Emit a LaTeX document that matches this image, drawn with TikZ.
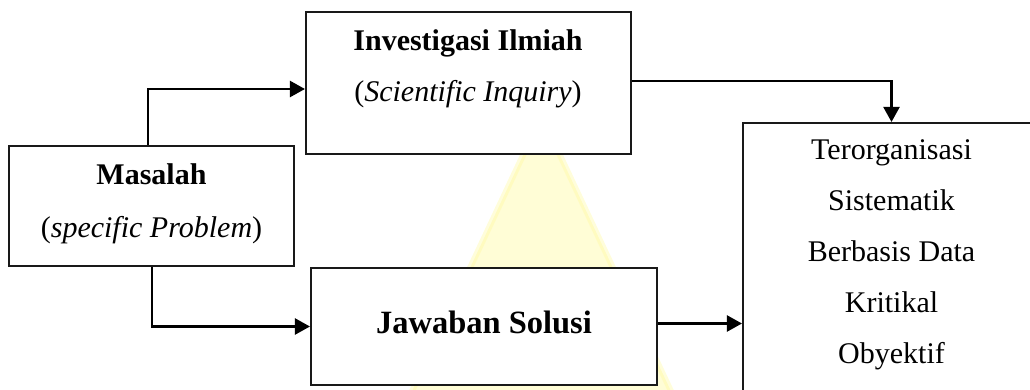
\documentclass[tikz,border=0pt]{standalone}
\usepackage{fontspec}
\setmainfont{Liberation Serif}
\usetikzlibrary{arrows.meta}
\begin{document}
\begin{tikzpicture}[x=1pt,y=-1pt,
  box/.style={draw=black!90, line width=2.1pt, inner sep=0pt, fill=white},
  txt/.style={anchor=base, inner sep=0pt, font=\fontsize{30}{30}\selectfont},
  conn/.style={line width=2.3pt, -{Triangle[length=15pt,width=16pt]}},
  wm/.style={fill=yellow!16, draw=yellow!40, line width=6pt, draw opacity=0.35}
]
\useasboundingbox (0,0) rectangle (1030,390);
\begin{scope}
\clip (0,0) rectangle (1030,390);
% faint watermark triangle
\path[wm] (541.5,116) -- (405,406) -- (678,406) -- cycle;
\node[box, minimum width=285pt, minimum height=120pt] (mas) at (151.5,206) {};
\node[box, minimum width=325pt, minimum height=142pt] (inv) at (468.5,83) {};
\node[box, minimum width=346pt, minimum height=117pt] (jaw) at (484,326.5) {};
\node[box, minimum width=297pt, minimum height=277pt] (res) at (891.5,261.5) {};
\end{scope}
% texts
\node[txt] (t1) at (468,51) {\textbf{Investigasi Ilmiah}};
\node[txt] (t2) at (468,102) {(\textit{Scientific Inquiry})};
\node[txt] (t3) at (151.5,185) {\textbf{Masalah}};
\node[txt] (t4) at (151.5,237) {(\textit{specific Problem})};
\node[txt, font=\fontsize{32.5}{32.5}\selectfont] (t5) at (484,333) {\textbf{Jawaban Solusi}};
\node[txt] (r1) at (891.5,160) {Terorganisasi};
\node[txt] (r2) at (891.5,211) {Sistematik};
\node[txt] (r3) at (891.5,261) {Berbasis Data};
\node[txt] (r4) at (891.5,312) {Kritikal};
\node[txt] (r5) at (891.5,363) {Obyektif};
% connectors
\draw[conn] (mas.north -| 148,0) |- ([yshift=-6pt]inv.west);
\draw[conn] (mas.south -| 152,0) |- (jaw.west);
\draw[conn] ([yshift=2pt]inv.east) -| (res.north);
\draw[conn] ([yshift=3pt]jaw.east) -- ([yshift=3pt]jaw.east -| res.west);
\end{tikzpicture}
\end{document}
